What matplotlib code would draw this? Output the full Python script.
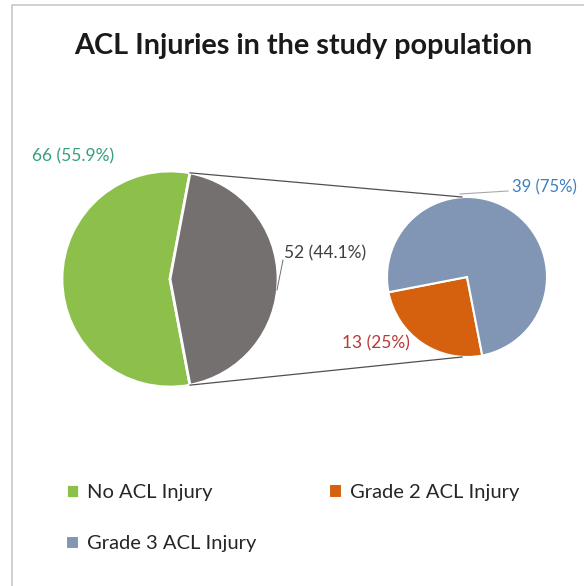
import numpy as np
import matplotlib.pyplot as plt
from matplotlib.patches import Rectangle

plt.rcParams['font.family'] = ['Lato', 'DejaVu Sans']

# main pie
main_labels = ['No ACL Injury', 'ACL Injury']
main_values = [66, 52]
main_colors = ['#8CC04B', '#757070']

# breakdown of ACL injuries
sub_labels = ['Grade 2 ACL Injury', 'Grade 3 ACL Injury']
sub_values = [13, 39]
sub_colors = ['#D5600E', '#8096B4']

W, H = 584, 586
fig = plt.figure(figsize=(W / 100, H / 100), dpi=100)
ax = fig.add_axes([0, 0, 1, 1])

# chart frame (right and bottom edges fall outside the picture)
ax.add_patch(Rectangle((12, H - 700), 700, 695, fill=False, ec='#C8C8C8', lw=1.2))

ax.text(303, H - 46, 'ACL Injuries in the study population', ha='center', va='center',
        fontsize=20.7, fontweight='bold', color='#1a1a1a')

c1, r1 = (170, H - 279), 108
c2, r2 = (467, H - 277), 80

total = sum(main_values)
half = main_values[1] / total * 180
w1, _ = ax.pie(main_values, colors=main_colors, center=c1, radius=r1, startangle=half,
               wedgeprops=dict(edgecolor='white', linewidth=2))

w2, _ = ax.pie(sub_values, colors=sub_colors, center=c2, radius=r2, startangle=191,
               wedgeprops=dict(edgecolor='white', linewidth=1.5))
ax.set_xlim(0, W)
ax.set_ylim(0, H)
ax.set_aspect('equal')
ax.axis('off')

# connector lines
a = np.deg2rad(half)
for s in (1, -1):
    x0 = c1[0] + r1 * np.cos(a)
    y0 = c1[1] + s * r1 * np.sin(a)
    ax.plot([x0, c2[0] - 5], [y0, c2[1] + s * r2], color='#505050', lw=0.9)

# data labels
pct = [v / total * 100 for v in main_values]
ax.text(32, H - 156, f'{main_values[0]} ({pct[0]:.1f}%)', fontsize=12.5, color='#35A080',
        va='center', ha='left')
ax.text(284, H - 253, f'{main_values[1]} ({pct[1]:.1f}%)', fontsize=12.5, color='#404040',
        va='center', ha='left')
ax.plot([277, 283], [H - 290, H - 260], color='#707070', lw=0.7)

sub_total = sum(sub_values)
spct = [v / sub_total * 100 for v in sub_values]
ax.text(512, H - 187, f'{sub_values[1]} ({spct[1]:.0f}%)', fontsize=12, color='#3E7FC0',
        va='center', ha='left')
ax.plot([460, 508], [H - 194, H - 191], color='#A8A8A8', lw=0.8)
ax.text(342, H - 343, f'{sub_values[0]} ({spct[0]:.0f}%)', fontsize=12.5, color='#B83A3A',
        va='center', ha='left')

# legend
handles = [w1[0], w2[1], w2[0]]
labels = [main_labels[0], sub_labels[1], sub_labels[0]]
fig.legend(handles, labels, ncol=2, loc='upper left', bbox_to_anchor=(48 / W, 1 - 466 / H),
           frameon=False, fontsize=14.5, handlelength=0.65, handleheight=0.65,
           handletextpad=0.4, columnspacing=3.6, labelspacing=1.7, labelcolor='#262626')

fig.savefig('out.png', dpi=100)
